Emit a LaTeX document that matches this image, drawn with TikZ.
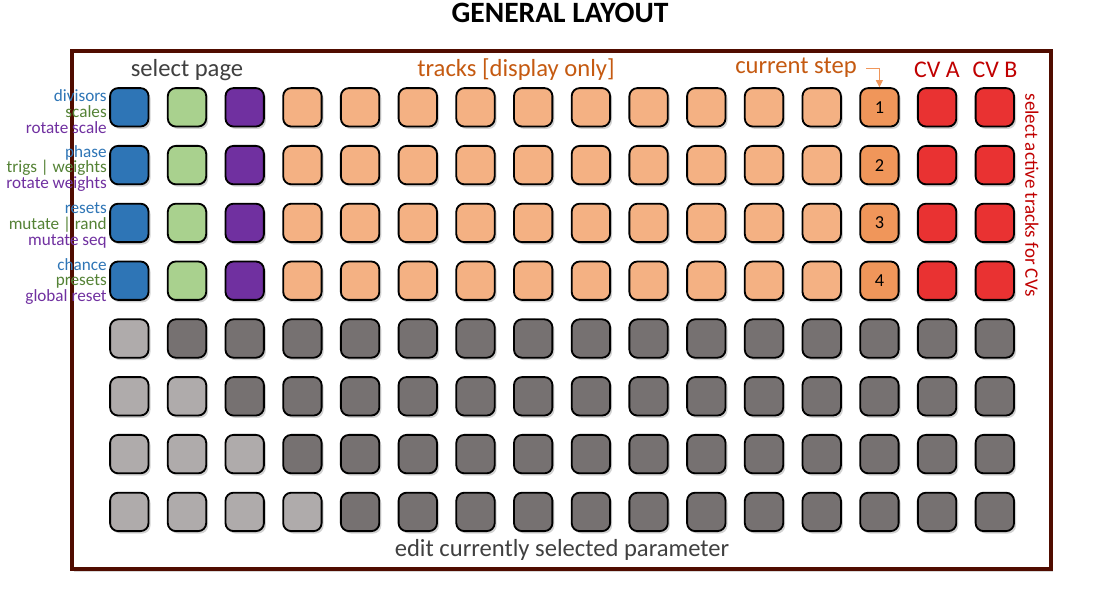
\documentclass[tikz,border=0pt]{standalone}
\usepackage{fontspec}
\setmainfont{Carlito}
\usetikzlibrary{arrows.meta,positioning,shadows}
\definecolor{frame}{RGB}{80,12,0}
\definecolor{kblue}{RGB}{46,117,182}
\definecolor{kgreen}{RGB}{169,209,142}
\definecolor{kpurple}{RGB}{112,48,160}
\definecolor{ktrack}{RGB}{244,177,131}
\definecolor{kstep}{RGB}{240,150,90}
\definecolor{kred}{RGB}{233,50,50}
\definecolor{kpale}{RGB}{175,171,171}
\definecolor{kdark}{RGB}{118,113,113}
\definecolor{txtgray}{RGB}{64,64,64}
\definecolor{txtorange}{RGB}{197,90,17}
\definecolor{txtred}{RGB}{192,0,0}
\definecolor{lblgreen}{RGB}{84,130,53}
\tikzset{
  key/.style={rectangle,rounded corners=0.2cm,draw=black,line width=1.3pt,
              minimum size=0.96cm,inner sep=0pt,
              font=\fontsize{13}{15}\selectfont,
              drop shadow={shadow xshift=0.05cm,shadow yshift=-0.06cm,
                           opacity=0.35}},
  head/.style={font=\fontsize{17.5}{20}\selectfont,inner sep=1pt},
  cvhead/.style={font=\fontsize{17}{20}\selectfont,txtred,inner sep=1pt},
  fnlabel/.style={align=right,anchor=east,inner sep=0pt,
                  font=\fontsize{12.2}{11.1}\selectfont},
  steparrow/.style={-{Triangle[length=5pt,width=5pt]},semithick,kstep},
  box frame/.style={draw=frame,line width=2.2pt,fill=white,
                    drop shadow={shadow xshift=0.06cm,shadow yshift=-0.07cm,
                                 opacity=0.3}},
}
\begin{document}
\begin{tikzpicture}[x=0.025cm,y=-0.025cm]
  \useasboundingbox (0,0) rectangle (1104,600);

  \node[font=\fontsize{21}{24}\selectfont\bfseries] (title) at (560,13) {GENERAL LAYOUT};
  \draw[box frame] (72,51) rectangle (1051,569);

  % top rows: page select, tracks, steps, cv
  \foreach \r in {1,...,4}
    \foreach \c/\s in {1/kblue,2/kgreen,3/kpurple,15/kred,16/kred}
      \node[key,fill=\s] (key-\r-\c) at ({129.3+(\c-1)*57.7},{107.3+(\r-1)*57.8}) {};
  \foreach \r in {1,...,4}
    \foreach \c in {4,...,13}
      \node[key,fill=ktrack] (key-\r-\c) at ({129.3+(\c-1)*57.7},{107.3+(\r-1)*57.8}) {};
  \foreach \r in {1,...,4}
    \node[key,fill=kstep] (key-\r-14) at ({129.3+13*57.7},{107.3+(\r-1)*57.8}) {\r};

  % bottom rows: parameter edit
  \foreach \r in {5,...,8}
    \foreach \c in {1,...,16}{
      \ifnum\c>\numexpr\r-4\relax \def\kc{kdark}\else \def\kc{kpale}\fi
      \node[key,fill=\kc] (key-\r-\c) at ({129.3+(\c-1)*57.7},{107.3+(\r-1)*57.8}) {};
    }

  \node[fnlabel] (lbl-1) at (107,111.5)
    {\textcolor{kblue}{divisors}\\\textcolor{lblgreen}{scales}\\\textcolor{kpurple}{rotate scale}};
  \node[fnlabel] (lbl-2) at (107,168.3)
    {\textcolor{kblue}{phase}\\\textcolor{lblgreen}{trigs | weights}\\\textcolor{kpurple}{rotate weights}};
  \node[fnlabel] (lbl-3) at (107,225.5)
    {\textcolor{kblue}{resets}\\\textcolor{lblgreen}{mutate | rand}\\\textcolor{kpurple}{mutate seq}};
  \node[fnlabel] (lbl-4) at (107,281.5)
    {\textcolor{kblue}{chance}\\\textcolor{lblgreen}{presets}\\\textcolor{kpurple}{global reset}};

  \node[head,txtgray] (pagehead) at (187,70) {select page};
  \node[head,txtorange] (trackhead) at (516,70) {tracks [display only]};
  \node[head,txtorange] (curstep) at (796,68) {current step};
  \node[cvhead] (cvahead) at (937,70) {CV A};
  \node[cvhead] (cvbhead) at (995,70) {CV B};
  \draw[steparrow] ([xshift=0.2cm]curstep.east) -| (key-1-14.north);

  \node[rotate=-90,txtred,font=\fontsize{13.5}{15}\selectfont] (cvsel) at (1032,195)
    {select active tracks for CVs};
  \node[head,txtgray] (edithead) at (562,550) {edit currently selected parameter};
\end{tikzpicture}
\end{document}
